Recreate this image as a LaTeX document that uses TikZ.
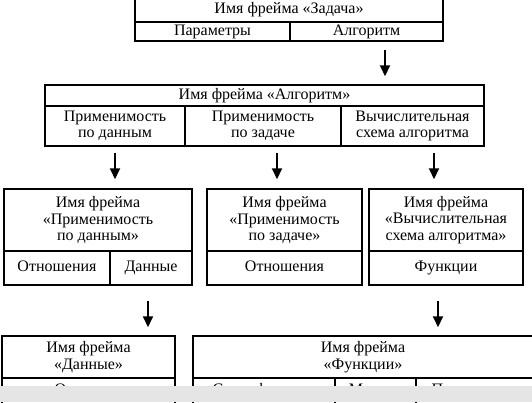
\documentclass[tikz,border=0pt]{standalone}
\usepackage{fontspec}
\setmainfont{Liberation Serif}
\usetikzlibrary{arrows.meta}
\begin{document}
\begin{tikzpicture}[x=1pt,y=-1pt,
  cell/.style={draw=black, line width=1.5pt, inner sep=0pt, align=center,
    font=\fontsize{16}{16.5}\selectfont},
  one/.style={text height=11pt, text depth=3.5pt},
  arr/.style={line width=2pt, -{Triangle[width=10pt,length=11pt]}}]
\useasboundingbox (0,0) rectangle (532,402);
\clip (0,0) rectangle (532,402);
% Frame "Задача"
\node[cell, one, minimum width=308pt, minimum height=24pt] (zh) at (289,10) {Имя фрейма «Задача»};
\node[cell, one, minimum width=155pt, minimum height=19pt] (zp) at (212.5,31.5) {Параметры};
\node[cell, one, minimum width=153pt, minimum height=19pt] (za) at (366.5,31.5) {Алгоритм};
% Frame "Алгоритм"
\node[cell, one, minimum width=439pt, minimum height=21pt] (ah) at (264.5,95.5) {Имя фрейма «Алгоритм»};
\node[cell, minimum width=140pt, minimum height=40pt] (a1) at (115,126) {Применимость\\по данным};
\node[cell, minimum width=156pt, minimum height=40pt] (a2) at (263,126) {Применимость\\по задаче};
\node[cell, minimum width=143pt, minimum height=40pt] (a3) at (412.5,126) {Вычислительная\\схема алгоритма};
% Row 3
\node[cell, minimum width=188pt, minimum height=62pt] (ph) at (98,220) {Имя фрейма\\«Применимость\\по данным»};
\node[cell, one, minimum width=106pt, minimum height=34pt] (pr) at (57,268) {Отношения};
\node[cell, one, minimum width=82pt, minimum height=34pt] (pd) at (151,268) {Данные};
\node[cell, minimum width=155pt, minimum height=62pt] (qh) at (284.5,220) {Имя фрейма\\«Применимость\\по задаче»};
\node[cell, one, minimum width=155pt, minimum height=34pt] (qr) at (284.5,268) {Отношения};
\node[cell, minimum width=154pt, minimum height=62pt] (vh) at (446,220) {Имя фрейма\\«Вычислительная\\схема алгоритма»};
\node[cell, one, minimum width=154pt, minimum height=34pt] (vf) at (446,268) {Функции};
% Row 4
\node[cell, minimum width=173pt, minimum height=42pt] (dh) at (88.5,357) {Имя фрейма\\«Данные»};
\node[cell, one, minimum width=173pt, minimum height=26pt] (dd) at (88.5,391) {Описания};
\node[cell, minimum width=340pt, minimum height=42pt] (fh) at (363,357) {Имя фрейма\\«Функции»};
\node[cell, one, minimum width=142pt, minimum height=26pt] (fs) at (264,391) {Спецификации};
\node[cell, one, minimum width=81pt, minimum height=26pt] (fm) at (375.5,391) {Модули};
\node[cell, one, minimum width=117pt, minimum height=26pt] (fv) at (474.5,391) {Переменные};
% Arrows
\draw[arr, shorten <=8pt, shorten >=8pt] (385,0 |- za.south) -- (385,0 |- ah.north);
\draw[arr, shorten <=6pt, shorten >=9pt] (115,0 |- a1.south) -- (115,0 |- ph.north);
\draw[arr, shorten <=6pt, shorten >=9pt] (277,0 |- a2.south) -- (277,0 |- qh.north);
\draw[arr, shorten <=6pt, shorten >=9pt] (434,0 |- a3.south) -- (434,0 |- vh.north);
\draw[arr, shorten <=15pt, shorten >=8pt] (148,0 |- pd.south) -- (148,0 |- dh.north);
\draw[arr, shorten <=15pt, shorten >=8pt] (438,0 |- vf.south) -- (438,0 |- fh.north);
% scanned band at the bottom
\fill[gray!20] (0,386) rectangle (532,402);
\end{tikzpicture}
\end{document}
